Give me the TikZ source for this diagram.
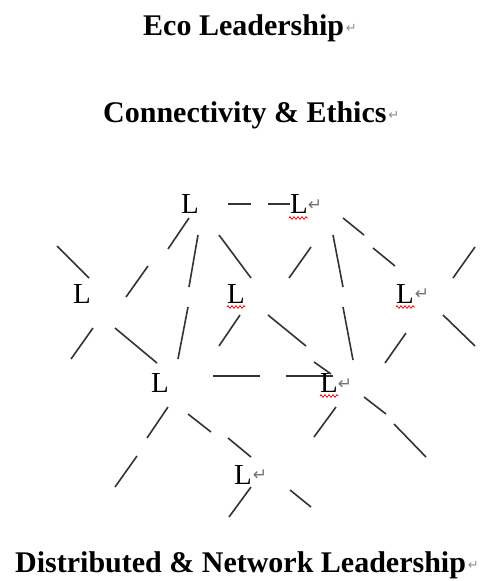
\documentclass[tikz,border=0pt]{standalone}
\usepackage{fontspec}
\setmainfont{Liberation Serif}
\newfontfamily\dejavu{DejaVu Sans}
\usetikzlibrary{decorations.pathmorphing}
\begin{document}
\begin{tikzpicture}[x=1pt,y=-1pt,
  seg/.style={line width=1.6pt, draw=black!80},
  titletext/.style={anchor=base west, inner sep=0, font=\fontsize{30}{36}\selectfont\bfseries},
  lnode/.style={anchor=base west, inner sep=0, font=\fontsize{29}{34}\selectfont},
  pmark/.style={inner sep=0, text=black!55, font=\dejavu\fontsize{17}{19}\selectfont},
  tmark/.style={inner sep=0, text=black!45, font=\dejavu\fontsize{13}{15}\selectfont},
  squig/.style={draw=red, line width=0.7pt, decorate, decoration={zigzag, amplitude=1.4pt, segment length=4pt}}]
\useasboundingbox (0,0) rectangle (488,581);

% titles
\node[titletext] (t1) at (143,35) {Eco Leadership};
\node[tmark, anchor=west] (t1m) at ([xshift=1.5pt,yshift=7pt]t1.base east) {↵};
\node[titletext] (t2) at (103,122) {Connectivity \& Ethics};
\node[tmark, anchor=west] (t2m) at ([xshift=1.5pt,yshift=7pt]t2.base east) {↵};
\node[titletext] (t3) at (15,572) {Distributed \& Network Leadership};
\node[tmark, anchor=west] (t3m) at ([xshift=1.5pt,yshift=7pt]t3.base east) {↵};

% short line segments
\foreach \a/\b/\c/\d in {
  228/204/251/204, 268/204/290/204,
  189/218/168/249, 148/266/126/297,
  198/235/189/287, 188/307/178/359,
  219/235/251/278, 311/247/289/278,
  333/235/343/287, 343/307/353/360,
  343/218/364/235, 373/248/395/266,
  475/247/453/278, 57/246/89/278,
  93/328/71/359, 115/328/157/363,
  240/315/219/346, 268/315/306/346,
  314/362/331/374, 213/376/260/376,
  286/376/333/376, 406/333/385/363,
  443/315/475/346, 168/407/147/438,
  137/456/115/487, 188/414/211/432,
  228/438/251/457, 336/407/314/437,
  364/397/386/414, 394/424/426/457,
  251/487/229/517, 290/490/311/507}
  \draw[seg] (\a,\b) -- (\c,\d);

% L nodes
\node[lnode] (l1) at (181,213) {L};
\node[lnode] (l2) at (290,213) {L};
\node[lnode] (l3) at (73,303) {L};
\node[lnode] (l4) at (227,303) {L};
\node[lnode] (l5) at (396,303) {L};
\node[lnode] (l6) at (151,392) {L};
\node[lnode] (l7) at (320,392) {L};
\node[lnode] (l8) at (234,484) {L};

% paragraph marks
\node[pmark] (m2) at (315,205) {↵};
\node[pmark] (m5) at (422,294) {↵};
\node[pmark] (m7) at (345,384) {↵};
\node[pmark] (m8) at (260,475) {↵};

% spell-check squiggles
\draw[squig] (289,218) -- (308,218);
\draw[squig] (227,307) -- (245,307);
\draw[squig] (396,307) -- (415,307);
\draw[squig] (320,396) -- (338,396);
\end{tikzpicture}
\end{document}
